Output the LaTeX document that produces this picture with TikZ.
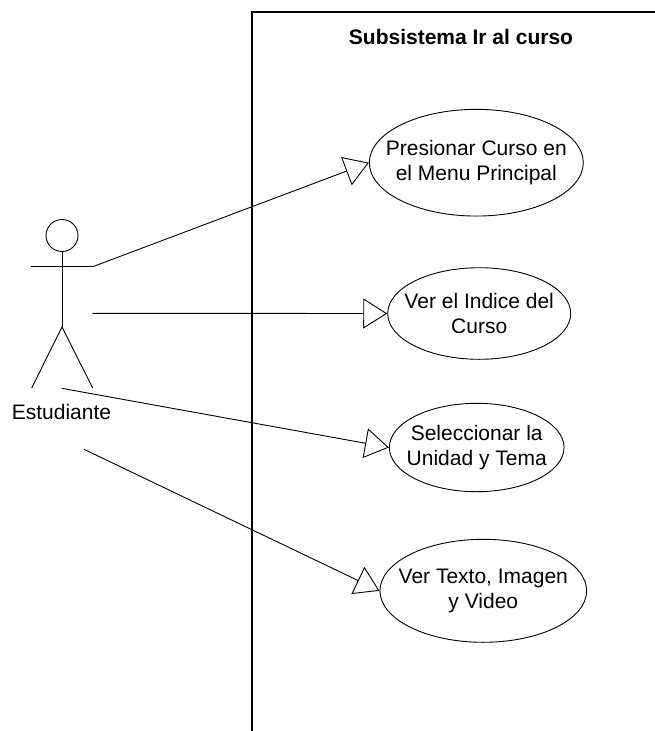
\documentclass[tikz,border=0pt]{standalone}
\usepackage{fontspec}
\setmainfont{Liberation Sans}
\usetikzlibrary{shapes.geometric,arrows.meta}
\begin{document}
\begin{tikzpicture}[x=1pt,y=-1pt,
  every node/.style={font=\fontsize{21}{25.5}\selectfont},
  usecase/.style={ellipse,draw,line width=0.9pt,inner sep=0pt},
  uclabel/.style={align=center,font=\fontsize{21}{25.5}\selectfont},
  assoc/.style={line width=0.9pt,-{Triangle[open,length=24pt,width=30pt,line width=0.9pt]}},
  frameline/.style={line width=1.7pt},
  stick/.style={line width=0.9pt}]
\useasboundingbox (0,0) rectangle (654,731);

% subsystem boundary
\draw[frameline] (252,740) -- (252,12) -- (660,12);
\node[font=\fontsize{21}{25.5}\selectfont\bfseries] (title) at (461,37) {Subsistema Ir al curso};

% actor
\draw[stick] (62,235.5) circle (16);
\draw[stick] (62,251.5) -- (62,327);
\draw[stick] (31,266.7) -- (92.7,266.7);
\draw[stick] (31.7,388) -- (62,327) -- (92.7,388);
\node (actor) at (61.5,412) {Estudiante};
\coordinate (a1) at (92.7,266.7);
\coordinate (a2) at (92.7,313.3);
\coordinate (a3) at (61.7,388.3);
\coordinate (a4) at (84,449.3);

% use cases
\node[usecase,minimum width=214pt,minimum height=106.7pt,
  label={[uclabel]center:Presionar Curso en\\el Menu Principal}] (uc1) at (476.3,162.7) {};
\node[usecase,minimum width=183pt,minimum height=91.6pt,
  label={[uclabel]center:Ver el Indice del\\Curso}] (uc2) at (479.2,313.5) {};
\node[usecase,minimum width=174.7pt,minimum height=88.4pt,
  label={[uclabel]center:Seleccionar la\\Unidad y Tema}] (uc3) at (476.7,447.5) {};
\node[usecase,minimum width=206.7pt,minimum height=103pt,
  label={[uclabel]center:Ver Texto, Imagen\\y Video}] (uc4) at (483.3,590.8) {};

% associations
\draw[assoc] (a1) -- (uc1.west);
\draw[assoc] (a2) -- (uc2.west);
\draw[assoc] (a3) -- (uc3.west);
\draw[assoc] (a4) -- (uc4.west);
\end{tikzpicture}
\end{document}
